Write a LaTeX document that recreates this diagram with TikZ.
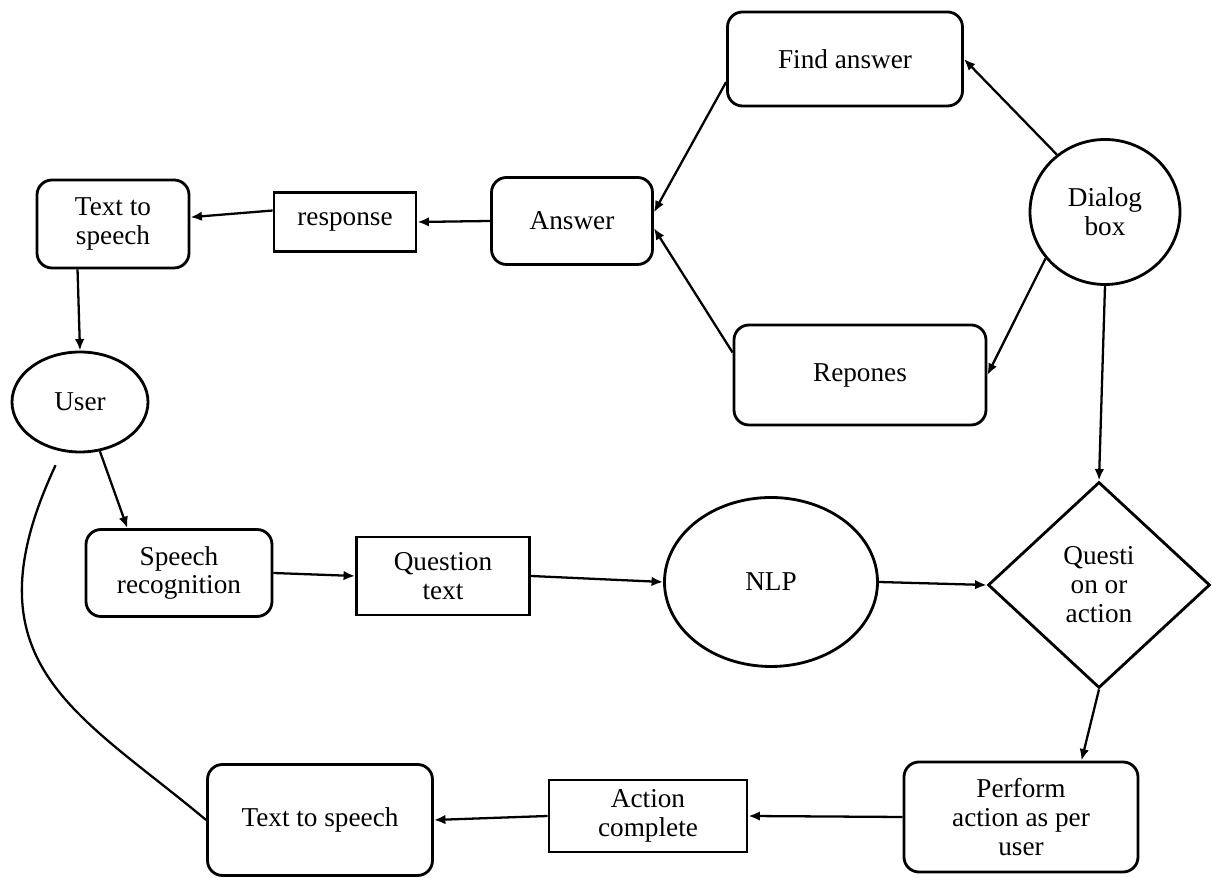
\documentclass[tikz,border=0pt]{standalone}
\usepackage{fontspec}
\setmainfont{Liberation Serif}
\usetikzlibrary{shapes.geometric,arrows.meta}

\tikzset{
	rbox/.style={draw, line width=1.6pt, rounded corners=0.3cm, align=center, inner sep=0pt},
	sbox/.style={draw, line width=1.6pt, align=center, inner sep=0pt},
	oval/.style={draw, ellipse, line width=1.6pt, align=center, inner sep=0pt},
	decision/.style={draw, diamond, line width=1.6pt, align=center, inner sep=0pt},
	flow/.style={->, line width=1.3pt},
	>={Latex[length=2.3mm,width=1.9mm]}
}

\begin{document}
\begin{tikzpicture}[font=\fontsize{15.5}{16.5}\selectfont]
		\useasboundingbox (0,0) rectangle (24.24,17.56);

		\node[rbox, minimum width=4.7cm, minimum height=1.88cm] (find) at (16.9,16.38) {Find answer};
		\node[oval, minimum width=3cm, minimum height=2.9cm] (dialog) at (22.1,13.32) {Dialog\\box};
		\node[rbox, minimum width=3.22cm, minimum height=1.74cm] (answer) at (11.44,13.14) {Answer};
		\node[sbox, minimum width=2.84cm, minimum height=1.18cm] (response) at (6.9,13.12) {response};
		\node[rbox, minimum width=3.04cm, minimum height=1.76cm] (ttsTop) at (2.26,13.08) {Text to\\speech};
		\node[oval, minimum width=2.72cm, minimum height=2cm] (user) at (1.6,9.52) {User};
		\node[rbox, minimum width=5.04cm, minimum height=2cm] (repones) at (17.2,10.06) {Repones};

		\node[rbox, minimum width=3.72cm, minimum height=1.74cm] (speech) at (3.58,6.10) {Speech\\recognition};
		\node[sbox, minimum width=3.46cm, minimum height=1.56cm] (qtext) at (8.86,6.04) {Question\\text};
		\node[oval, minimum width=4.26cm, minimum height=3.38cm] (nlp) at (15.42,5.92) {NLP};
		\node[decision, minimum width=4.44cm, minimum height=4.12cm] (choice) at (21.98,5.86) {Questi\\on or\\action};

		\node[rbox, minimum width=4.68cm, minimum height=2.2cm] (perform) at (20.42,1.22) {Perform\\action as per\\user};
		\node[sbox, minimum width=3.96cm, minimum height=1.44cm] (done) at (12.96,1.24) {Action\\complete};
		\node[rbox, minimum width=4.5cm, minimum height=2.22cm] (ttsBottom) at (6.4,1.16) {Text to speech};

		\draw[flow] (dialog.130) -- (find.east);
		\draw[flow] (find.191) -- (answer.6);
		\draw[flow] (repones.170) -- (answer.-5);
		\draw[flow] (dialog.218) -- (repones.east);
		\draw[flow] (answer.west) -- (response.east);
		\draw[flow] (response.171) -- (ttsTop.5);
		\draw[flow] (ttsTop.232) -- (user.north);

		\draw[flow] (user.292) -- (speech.139);
		\draw[flow] (speech.east) -- (qtext.west);
		\draw[flow] (qtext.east) -- (nlp.west);
		\draw[flow] (nlp.east) -- (choice.west);
		\draw[flow] (dialog.south) -- (choice.north);

		\draw[flow] (choice.south) -- (perform.43);
		\draw[flow] (perform.west) -- (done.east);
		\draw[flow] (done.west) -- (ttsBottom.east);
		\draw[line width=1.3pt, shorten >=0.3cm] (ttsBottom.west) .. controls (1.54,3.32) and (-0.74,4.30) .. (user.250);
	\end{tikzpicture}
\end{document}
